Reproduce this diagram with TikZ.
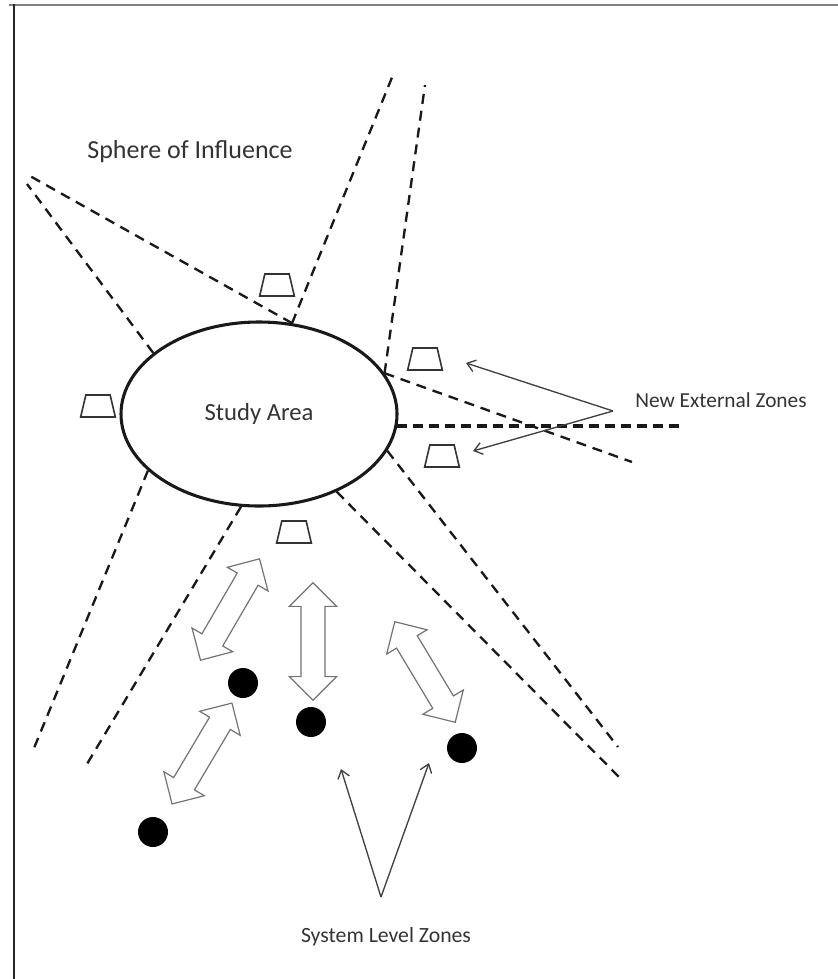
\documentclass[tikz,border=0pt]{standalone}
\usepackage{fontspec}
\setmainfont{Carlito}
\usetikzlibrary{shapes.geometric,shapes.arrows,arrows.meta}
\begin{document}
\begin{tikzpicture}[x=0.75pt,y=-0.75pt,
  studyarea/.style={ellipse, draw=black!90, line width=2.3pt, minimum width=207pt, minimum height=138pt, inner sep=0pt},
  zone/.style={trapezium, draw=black!80, line width=1.2pt, trapezium left angle=78, trapezium right angle=78, trapezium stretches=true, minimum width=26pt, minimum height=16.5pt, inner sep=2pt},
  ray/.style={line width=1.75pt, dash pattern=on 7.5pt off 5.25pt, black!90},
  thickray/.style={line width=2.5pt, dash pattern=on 7.5pt off 4.5pt, black!90},
  flow/.style={double arrow, draw=black!55, fill=white, line width=0.9pt, minimum height=88pt, minimum width=34.5pt, double arrow head extend=8.6pt, inner xsep=0pt, inner ysep=8.6pt},
  sysdot/.style={circle, fill=black, minimum size=22.5pt, inner sep=0pt},
  pointer/.style={-{Straight Barb[length=6pt,width=9pt]}, line width=1pt, draw=black!75},
  lab/.style={text=black!80, inner sep=0pt}
]
\useasboundingbox (0,0) rectangle (838,979);
% frame
\draw[black!50, line width=1.5pt] (9,5) -- (838,5);
\draw[black!85, line width=2.2pt] (14,4) -- (14,979);

% study area
\node[studyarea, text=black!80, font=\fontsize{18.5pt}{22pt}\selectfont] (study) at (259,414) {Study Area};

% ray end points
\coordinate (e1) at (393,75);
\coordinate (e2) at (30,176);
\coordinate (e3) at (27,184);
\coordinate (e4) at (425,85);
\coordinate (e5) at (632,462);
\coordinate (e7) at (618,747);
\coordinate (e8) at (622,780);
\coordinate (e9) at (87,764);
\coordinate (e10) at (32,753);

\draw[ray] (study.70) -- (e1);
\draw[ray] (study.70) -- (e2);
\draw[ray] (study.150) -- (e3);
\draw[ray] (study.18) -- (e4);
\draw[ray] (study.18) -- (e5);
\draw[thickray] (study.-5) -- ++(282,0);
\draw[ray] (study.-16.5) -- (e7);
\draw[ray] (study.-45.4) -- (e8);
\draw[ray] (study.-101.5) -- (e9);
\draw[ray] (study.-153.4) -- (e10);

% external zones
\node[zone] (z1) at (277,285) {};
\node[zone] (z2) at (98,406) {};
\node[zone] (z3) at (425,359) {};
\node[zone] (z4) at (442,456) {};
\node[zone] (z5) at (294,532) {};

% system level zones (dots)
\node[sysdot] (d1) at (243,683) {};
\node[sysdot] (d2) at (311,722) {};
\node[sysdot] (d3) at (462,748) {};
\node[sysdot] (d4) at (153,832) {};

% double arrows
\node[flow, rotate=59.8] (a1) at (230,609.5) {};
\node[flow, rotate=90] (a2) at (313,641.5) {};
\node[flow, rotate=-59] (a3) at (425,672) {};
\node[flow, rotate=59.3] (a4) at (202,753.5) {};

% labels
\node[lab, font=\fontsize{19.5pt}{23pt}\selectfont] (soi) at (190,152) {Sphere of Influence};
\node[lab, font=\fontsize{16pt}{19pt}\selectfont] (nez) at (721,400) {New External Zones};
\node[lab, font=\fontsize{16.3pt}{19pt}\selectfont] (slz) at (386,937) {System Level Zones};

% pointers
\coordinate (nsrc) at (613,411);
\coordinate (nt1) at (466,363);
\coordinate (nt2) at (473,451);
\draw[pointer] (nsrc) -- (nt1);
\draw[pointer] (nsrc) -- (nt2);

\coordinate (ssrc) at (381,897);
\coordinate (st1) at (341,769);
\coordinate (st2) at (429,763);
\draw[pointer] (ssrc) -- (st1);
\draw[pointer] (ssrc) -- (st2);
\end{tikzpicture}
\end{document}
